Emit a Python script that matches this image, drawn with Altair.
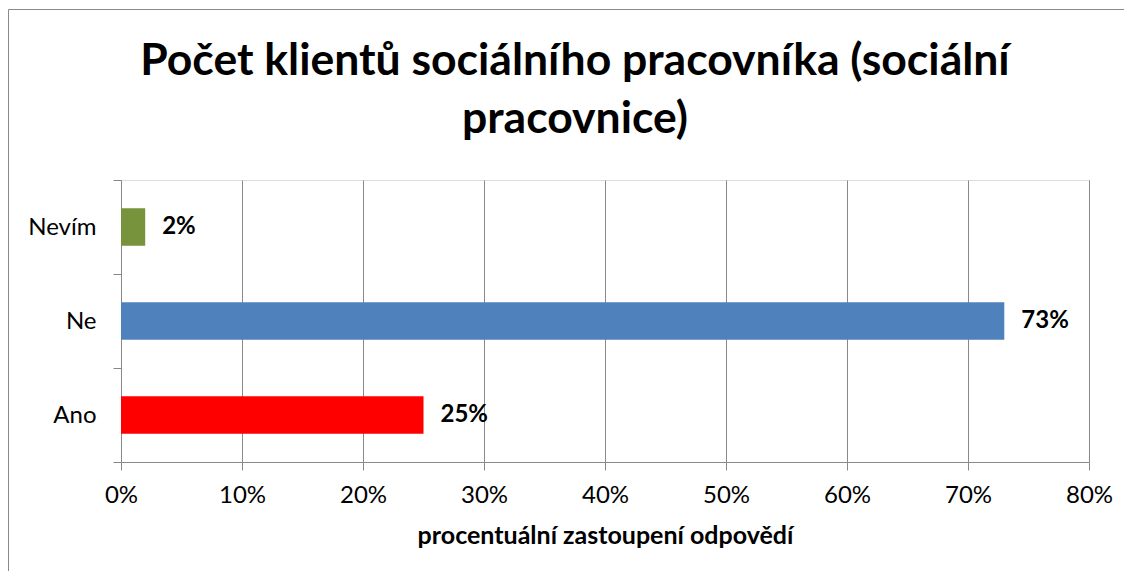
import altair as alt
import pandas as pd

categories = ["Nevím", "Ne", "Ano"]
values = [0.02, 0.73, 0.25]
labels = ["2%", "73%", "25%"]
colors = ["#77933C", "#4F81BD", "#FF0000"]

title_lines = ["Počet klientů sociálního pracovníka (sociální", "pracovnice)"]
x_title = "procentuální zastoupení odpovědí"
x_ticks = [0, 0.1, 0.2, 0.3, 0.4, 0.5, 0.6, 0.7, 0.8]

df = pd.DataFrame({"cat": categories, "val": values, "lab": labels})

FONT = "Lato"
GRAY = "#898989"

y_enc = alt.Y(
    "cat:N",
    sort=categories,
    title=None,
    scale=alt.Scale(paddingInner=0, paddingOuter=0),
    axis=alt.Axis(
        tickBand="extent",
        tickSize=8,
        tickColor=GRAY,
        domainColor=GRAY,
        labelPadding=17,
        labelFontSize=24,
        labelFont=FONT,
        labelColor="black",
        grid=False,
    ),
)

x_enc = alt.X(
    "val:Q",
    scale=alt.Scale(domain=[0, 0.8], nice=False),
    title=x_title,
    axis=alt.Axis(
        values=x_ticks,
        format=".0%",
        labelFlush=False,
        tickSize=8,
        tickColor=GRAY,
        domainColor=GRAY,
        gridColor=GRAY,
        gridOpacity=1,
        labelPadding=13,
        labelFontSize=24,
        labelFont=FONT,
        labelColor="black",
        titleFont=FONT,
        titleFontSize=25,
        titleFontWeight="bold",
        titleColor="black",
        titlePadding=16,
    ),
)

bars = alt.Chart(df).mark_bar(height=alt.RelativeBandSize(band=0.4)).encode(
    x=x_enc,
    y=y_enc,
    color=alt.Color("cat:N", scale=alt.Scale(domain=categories, range=colors), legend=None),
)

text = alt.Chart(df).mark_text(
    align="left", baseline="middle", dx=17, font=FONT, fontSize=24, fontWeight="bold", color="black"
).encode(
    x="val:Q",
    y=alt.Y("cat:N", sort=categories),
    text="lab:N",
)

one = pd.DataFrame({"k": [0]})

title = alt.Chart(one).mark_text(
    text=title_lines,
    align="center",
    baseline="alphabetic",
    font=FONT,
    fontSize=44.5,
    fontWeight="bold",
    color="black",
    lineHeight=58,
).encode(x=alt.value(454), y=alt.value(-105))

frame_top = alt.Chart(one).mark_rule(stroke=GRAY, strokeWidth=1).encode(
    x=alt.value(-112.5), x2=alt.value(1100), y=alt.value(-170.5)
)
frame_left = alt.Chart(one).mark_rule(stroke=GRAY, strokeWidth=1).encode(
    x=alt.value(-112.5), y=alt.value(-170.5), y2=alt.value(500)
)

chart = alt.layer(frame_top, frame_left, bars, text, title).properties(
    width=968,
    height=282,
    autosize=alt.AutoSizeParams(type="none"),
    padding={"left": 113, "top": 172, "right": 35, "bottom": 109},
).configure_view(stroke=None).configure(background="white")

chart.save("out.html", embed_options={"renderer": "svg", "actions": False})
